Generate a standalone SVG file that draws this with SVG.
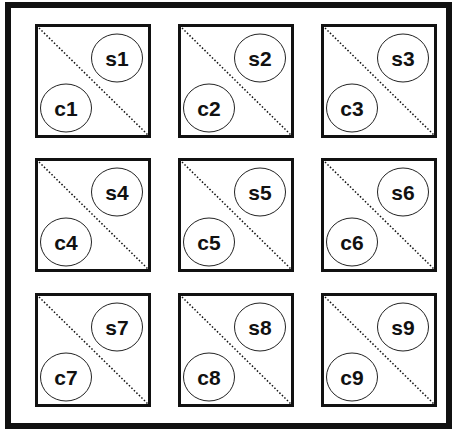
<svg xmlns="http://www.w3.org/2000/svg" width="454" height="432" viewBox="0 0 454 432">
<style>
.frame{fill:#fff;stroke:#111;stroke-width:6}
.box{fill:#fff;stroke:#111;stroke-width:3}
.diag{stroke:#111;stroke-width:1.5;stroke-dasharray:1.5 2;fill:none}
.ell{fill:#fff;stroke:#222;stroke-width:1}
.lbl{font-family:"Liberation Sans",Arial,sans-serif;font-weight:bold;font-size:21px;fill:#111;text-anchor:middle}
</style>
<defs>
<g id="cell">
<rect class="box" x="1.5" y="1.5" width="113" height="111"/>
<line class="diag" x1="4" y1="4" x2="113" y2="111"/>
<ellipse class="ell" cx="82" cy="34" rx="25.5" ry="24"/>
<ellipse class="ell" cx="31" cy="84" rx="25.5" ry="24"/>
</g>
</defs>
<rect class="frame" x="8" y="5" width="441" height="421"/>
<g id="cell1" transform="translate(35,24)"><use href="#cell"/><text class="lbl" x="82" y="41.5">s1</text><text class="lbl" x="31" y="91.5">c1</text></g>
<g id="cell2" transform="translate(178,24)"><use href="#cell"/><text class="lbl" x="82" y="41.5">s2</text><text class="lbl" x="31" y="91.5">c2</text></g>
<g id="cell3" transform="translate(321,24)"><use href="#cell"/><text class="lbl" x="82" y="41.5">s3</text><text class="lbl" x="31" y="91.5">c3</text></g>
<g id="cell4" transform="translate(35,158)"><use href="#cell"/><text class="lbl" x="82" y="41.5">s4</text><text class="lbl" x="31" y="91.5">c4</text></g>
<g id="cell5" transform="translate(178,158)"><use href="#cell"/><text class="lbl" x="82" y="41.5">s5</text><text class="lbl" x="31" y="91.5">c5</text></g>
<g id="cell6" transform="translate(321,158)"><use href="#cell"/><text class="lbl" x="82" y="41.5">s6</text><text class="lbl" x="31" y="91.5">c6</text></g>
<g id="cell7" transform="translate(35,293)"><use href="#cell"/><text class="lbl" x="82" y="41.5">s7</text><text class="lbl" x="31" y="91.5">c7</text></g>
<g id="cell8" transform="translate(178,293)"><use href="#cell"/><text class="lbl" x="82" y="41.5">s8</text><text class="lbl" x="31" y="91.5">c8</text></g>
<g id="cell9" transform="translate(321,293)"><use href="#cell"/><text class="lbl" x="82" y="41.5">s9</text><text class="lbl" x="31" y="91.5">c9</text></g>
<g id="connectors"/>
</svg>
